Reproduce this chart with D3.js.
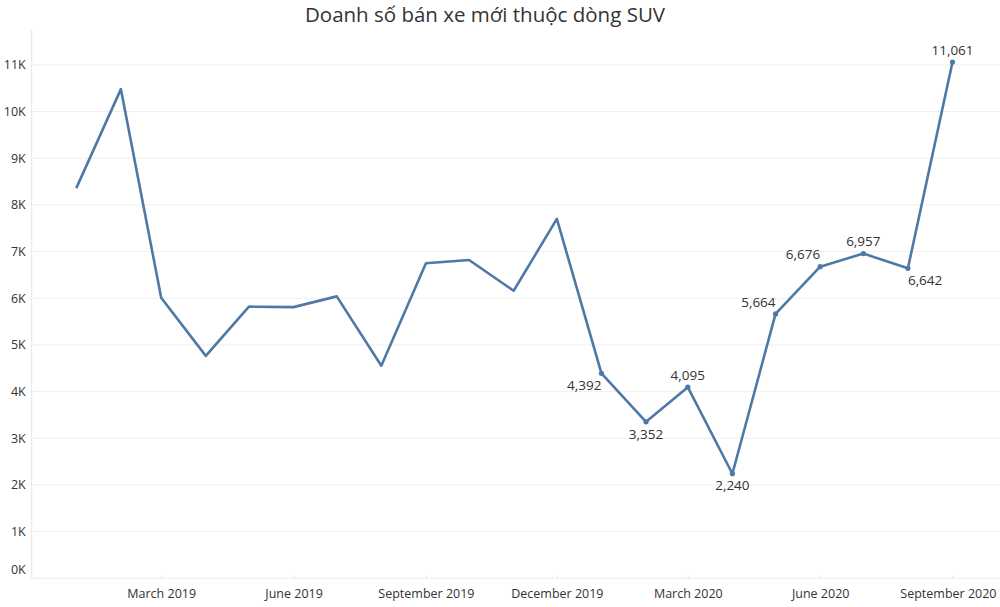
<!DOCTYPE html>
<html>
<head>
<meta charset="utf-8">
<script src="https://cdn.jsdelivr.net/npm/d3@7"></script>
<style>
  body { margin: 0; background: #fff; }
  svg { display: block; font-family: "Open Sans", sans-serif; }
</style>
</head>
<body>
<svg id="chart" width="1000" height="607"></svg>
<script>
// monthly SUV sales, Jan 2019 - Sep 2020
var months = ["2019-01", "2019-02", "2019-03", "2019-04", "2019-05", "2019-06", "2019-07",
              "2019-08", "2019-09", "2019-10", "2019-11", "2019-12", "2020-01", "2020-02",
              "2020-03", "2020-04", "2020-05", "2020-06", "2020-07", "2020-08", "2020-09"];
var sales = [8360, 10480, 6010, 4765, 5820, 5810, 6040, 4555, 6750, 6820, 6160, 7700,
             4392, 3352, 4095, 2240, 5664, 6676, 6957, 6642, 11061];
var labelledMonths = ["2020-01", "2020-02", "2020-03", "2020-04", "2020-05",
                      "2020-06", "2020-07", "2020-08", "2020-09"];
var tickMonths = ["2019-03", "2019-06", "2019-09", "2019-12", "2020-03", "2020-06", "2020-09"];
var yTicks = [0, 1000, 2000, 3000, 4000, 5000, 6000, 7000, 8000, 9000, 10000, 11000];
var title = "Doanh số bán xe mới thuộc dòng SUV";

var parseMonth = d3.timeParse("%Y-%m");
var data = months.map(function (m, i) {
  return { month: m, date: parseMonth(m), value: sales[i] };
});

var plotLeft = 31.7, plotRight = 1000, plotTop = 35, plotBottom = 578.3;

var svg = d3.select("#chart");

var x = d3.scaleTime()
  .domain([new Date(2018, 11, 1), new Date(2020, 9, 4)])
  .range([plotLeft, plotRight]);

var y = d3.scaleLinear()
  .domain([0, 11640])
  .range([plotBottom, plotTop]);

// title
svg.append("text")
  .attr("x", 485)
  .attr("y", 22)
  .attr("text-anchor", "middle")
  .style("font-size", "20.5px")
  .style("fill", "#333")
  .text(title);

// gridlines
svg.append("g")
  .selectAll("line")
  .data(yTicks.slice(1))
  .join("line")
  .attr("x1", plotLeft)
  .attr("x2", plotRight)
  .attr("y1", function (d) { return y(d); })
  .attr("y2", function (d) { return y(d); })
  .style("stroke", "#efefef")
  .style("stroke-width", 1);

// left axis line + bottom axis line
svg.append("line")
  .attr("x1", plotLeft).attr("x2", plotLeft)
  .attr("y1", plotTop - 5).attr("y2", plotBottom)
  .style("stroke", "#e6e6e6");
svg.append("line")
  .attr("x1", plotLeft).attr("x2", plotRight)
  .attr("y1", plotBottom).attr("y2", plotBottom)
  .style("stroke", "#ebebeb");

// y axis labels
var yAxis = svg.append("g")
  .attr("transform", "translate(" + (plotLeft - 6) + ",0)")
  .call(d3.axisLeft(y)
    .tickValues(yTicks)
    .tickSize(0)
    .tickPadding(0)
    .tickFormat(function (d) { return d3.format("d")(d / 1000) + "K"; }));
yAxis.select(".domain").remove();
yAxis.selectAll("text")
  .style("font-size", "12.5px")
  .style("fill", "#333")
  .style("font-family", "Open Sans, sans-serif")
  .attr("dy", function (d) { return d === 0 ? "-0.35em" : "0.32em"; });

// x axis
var xAxis = svg.append("g")
  .attr("transform", "translate(0," + plotBottom + ")")
  .call(d3.axisBottom(x)
    .tickValues(tickMonths.map(parseMonth))
    .tickSize(-3)
    .tickPadding(11)
    .tickFormat(d3.timeFormat("%B %Y")));
xAxis.select(".domain").remove();
xAxis.selectAll("line").style("stroke", "#e6e6e6");
xAxis.selectAll("text")
  .style("font-size", "12.5px")
  .style("fill", "#333")
  .style("font-family", "Open Sans, sans-serif");

// keep the last label inside the frame, like tableau does
var lastTick = parseMonth(tickMonths[tickMonths.length - 1]);
xAxis.selectAll("text")
  .filter(function (d) { return +d === +lastTick; })
  .attr("text-anchor", "end")
  .attr("x", 996 - x(lastTick));

// the line
var line = d3.line()
  .x(function (d) { return x(d.date); })
  .y(function (d) { return y(d.value); });

svg.append("path")
  .datum(data)
  .attr("d", line)
  .style("fill", "none")
  .style("stroke", "#4e79a7")
  .style("stroke-width", 2.6)
  .style("stroke-linejoin", "round");

// labelled points
var placement = {
  "2020-01": ["end", 1], "2020-02": ["middle", 1], "2020-03": ["middle", -1],
  "2020-04": ["middle", 1], "2020-05": ["end", -1], "2020-06": ["end", -1],
  "2020-07": ["middle", -1], "2020-08": ["start", 1], "2020-09": ["middle", -1]
};
var marked = data.filter(function (d) { return labelledMonths.indexOf(d.month) >= 0; });

svg.append("g")
  .selectAll("circle")
  .data(marked)
  .join("circle")
  .attr("cx", function (d) { return x(d.date); })
  .attr("cy", function (d) { return y(d.value); })
  .attr("r", 2.6)
  .style("fill", "#4e79a7");

svg.append("g")
  .selectAll("text")
  .data(marked)
  .join("text")
  .attr("x", function (d) { return x(d.date); })
  .attr("y", function (d) { return y(d.value) + placement[d.month][1] * 12; })
  .attr("dy", "0.35em")
  .attr("text-anchor", function (d) { return placement[d.month][0]; })
  .style("font-size", "13.5px")
  .style("fill", "#333")
  .text(function (d) { return d3.format(",")(d.value); });
</script>
</body>
</html>
